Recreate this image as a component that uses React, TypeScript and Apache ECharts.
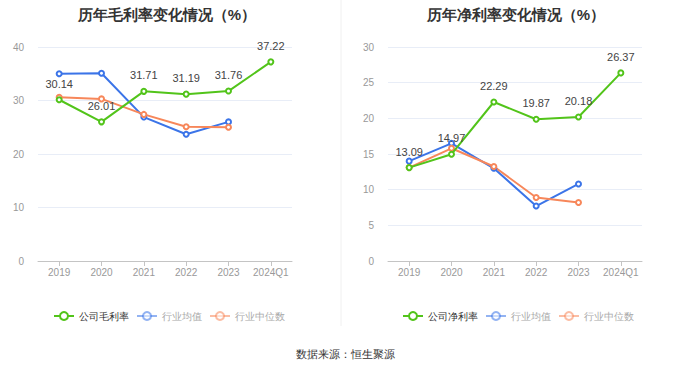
import React, { useEffect, useRef } from "react";
import * as echarts from "echarts";

const categories = ["2019", "2020", "2021", "2022", "2023", "2024Q1"];
const grossCompany = [30.14, 26.01, 31.71, 31.19, 31.76, 37.22];
const grossIndustryAvg = [35.0, 35.1, 26.9, 23.7, 26.0, null];
const grossIndustryMedian = [30.6, 30.3, 27.4, 25.1, 25.0, null];
const netCompany = [13.09, 14.97, 22.29, 19.87, 20.18, 26.37];
const netIndustryAvg = [14.0, 16.5, 13.0, 7.7, 10.8, null];
const netIndustryMedian = [13.1, 15.8, 13.25, 8.9, 8.2, null];

const GREEN = "#52c41a";
const BLUE = "#3b74e8";
const ORANGE = "#f7875a";

export default function App() {
  const ref = useRef<HTMLDivElement>(null);
  useEffect(() => {
    if (!ref.current) return;
    const chart = echarts.init(ref.current, null, { renderer: "svg" });
    const font = "sans-serif";
    const axisX = (gi: number) => ({
      type: "category" as const,
      gridIndex: gi,
      data: categories,
      axisLine: { lineStyle: { color: "#c4c4c4" } },
      axisTick: { show: true, alignWithLabel: true, lineStyle: { color: "#c4c4c4" } },
      axisLabel: { color: "#999", fontSize: 10, margin: 6, interval: 0 },
    });
    const axisY = (gi: number, max: number, interval: number) => ({
      type: "value" as const,
      gridIndex: gi,
      min: 0,
      max,
      interval,
      axisLine: { show: false },
      axisTick: { show: false },
      axisLabel: { color: "#999", fontSize: 10, margin: 14 },
      splitLine: { lineStyle: { color: "#e8edf7" } },
    });
    const line = (name: string, data: (number | null)[], color: string, gi: number, label: boolean) => ({
      name,
      type: "line" as const,
      xAxisIndex: gi,
      yAxisIndex: gi,
      data,
      symbol: "emptyCircle",
      symbolSize: 5,
      lineStyle: { width: 2, color },
      itemStyle: { color },
      label: label
        ? { show: true, position: "top", color: "#444", fontSize: 11, distance: 7 }
        : { show: false },
      z: label ? 3 : 2,
    });
    const legendData = (first: string) => [
      { name: first, textStyle: { color: "#333" } },
      { name: "行业均值", itemStyle: { opacity: 0.55 }, lineStyle: { opacity: 0.55 }, textStyle: { color: "#aaa" } },
      { name: "行业中位数", itemStyle: { opacity: 0.55 }, lineStyle: { opacity: 0.55 }, textStyle: { color: "#aaa" } },
    ];
    const legendCommon = {
      top: 306,
      itemWidth: 20,
      itemHeight: 10,
      itemGap: 7,
      textStyle: { fontSize: 10 },
    };
    chart.setOption({
      animation: false,
      textStyle: { fontFamily: font },
      title: [
        {
          text: "历年毛利率变化情况（%）",
          left: 162,
          textAlign: "center",
          top: 2,
          textStyle: { fontSize: 15, fontWeight: "bold", color: "#333" },
        },
        {
          text: "历年净利率变化情况（%）",
          left: 511,
          textAlign: "center",
          top: 2,
          textStyle: { fontSize: 15, fontWeight: "bold", color: "#333" },
        },
        {
          text: "数据来源：恒生聚源",
          left: 340,
          textAlign: "center",
          top: 343,
          textStyle: { fontSize: 11, fontWeight: "normal", color: "#333" },
        },
      ],
      legend: [
        { ...legendCommon, data: legendData("公司毛利率"), left: 48 },
        { ...legendCommon, data: legendData("公司净利率"), left: 397 },
      ],
      grid: [
        { left: 38, right: 388, top: 47, bottom: 106 },
        { left: 388, right: 38, top: 47, bottom: 106 },
      ],
      xAxis: [axisX(0), axisX(1)],
      yAxis: [axisY(0, 40, 10), axisY(1, 30, 5)],
      series: [
        line("行业均值", grossIndustryAvg, BLUE, 0, false),
        line("行业中位数", grossIndustryMedian, ORANGE, 0, false),
        line("公司毛利率", grossCompany, GREEN, 0, true),
        line("行业均值", netIndustryAvg, BLUE, 1, false),
        line("行业中位数", netIndustryMedian, ORANGE, 1, false),
        line("公司净利率", netCompany, GREEN, 1, true),
      ],
      graphic: [
        {
          type: "line",
          shape: { x1: 341, y1: 0, x2: 341, y2: 326 },
          style: { stroke: "#f0f0f0", lineWidth: 1 },
        },
      ],
    });
    return () => chart.dispose();
  }, []);
  return (
    <div
      ref={ref}
      style={{ position: "fixed", left: 0, top: 0, width: 680, height: 367, background: "#fff" }}
    />
  );
}
